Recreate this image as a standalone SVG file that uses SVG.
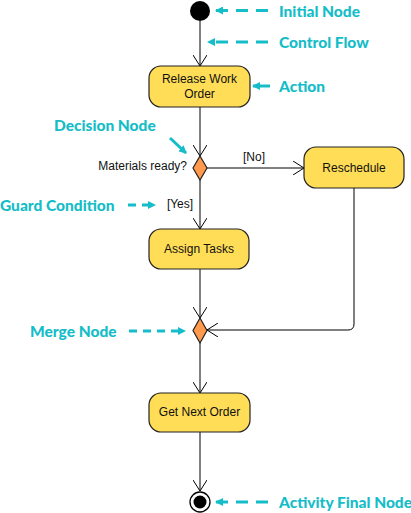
<svg xmlns="http://www.w3.org/2000/svg" width="411" height="513" viewBox="0 0 411 513">
<defs>
<marker id="open" viewBox="0 0 12 14" refX="11" refY="7" markerWidth="12" markerHeight="14" markerUnits="userSpaceOnUse" orient="auto">
<path d="M0,0 L11,7 L0,14" fill="none" stroke="#000" stroke-width="1"/>
</marker>
<marker id="tealhead" viewBox="0 0 8 8" refX="7" refY="4" markerWidth="8" markerHeight="8" markerUnits="userSpaceOnUse" orient="auto">
<path d="M0,0 L8,4 L0,8 Z" fill="#14BDC8"/>
</marker>
</defs>
<style>
.act{fill:#FFDD57;stroke:#222;stroke-width:1.2}
.dia{fill:#FF9A4D;stroke:#222;stroke-width:1.2}
.flow{fill:none;stroke:#000;stroke-width:1;marker-end:url(#open)}
.t{font-family:"Liberation Sans",Arial,sans-serif;font-size:12px;fill:#111;text-anchor:middle;dominant-baseline:central}
.s{font-family:"Liberation Sans",Arial,sans-serif;font-size:12px;fill:#111;dominant-baseline:central}
.lab{font-family:Lato,"Liberation Sans",sans-serif;font-weight:900;font-size:15.5px;fill:#14BDC8;dominant-baseline:central}
.la{fill:none;stroke:#14BDC8;stroke-width:3;marker-end:url(#tealhead)}
.dash{stroke-dasharray:12 8}
</style>

<g id="connectors">
<line class="flow" x1="200" y1="21" x2="200" y2="66"/>
<line class="flow" x1="200" y1="107" x2="200" y2="156"/>
<line class="flow" x1="207" y1="168" x2="304" y2="168"/>
<line class="flow" x1="200" y1="180" x2="200" y2="229"/>
<line class="flow" x1="200" y1="269" x2="200" y2="318"/>
<path class="flow" d="M354,188 L354,324 Q354,330 348,330 L207,330"/>
<line class="flow" x1="200" y1="343" x2="200" y2="393"/>
<line class="flow" x1="200" y1="432" x2="200" y2="491"/>
</g>

<g id="initial-node"><circle cx="200" cy="11" r="10" fill="#000"/></g>

<g id="release-work-order">
<rect class="act" x="149" y="66" width="101" height="41" rx="12"/>
<text class="t" x="199.5" y="79">Release Work</text>
<text class="t" x="199.5" y="94">Order</text>
</g>

<g id="decision-node">
<path class="dia" d="M200,156 L207,168 L200,180 L193,168 Z"/>
<text class="s" x="187" y="166" text-anchor="end">Materials ready?</text>
</g>

<g id="guard-no"><text class="s" x="254" y="157" text-anchor="middle" font-size="11px">[No]</text></g>
<g id="guard-yes"><text class="s" x="180" y="204" text-anchor="middle" font-size="11px">[Yes]</text></g>

<g id="reschedule">
<rect class="act" x="304" y="147" width="100" height="41" rx="12"/>
<text class="t" x="354" y="168">Reschedule</text>
</g>

<g id="assign-tasks">
<rect class="act" x="149" y="229" width="100" height="40" rx="12"/>
<text class="t" x="199" y="249">Assign Tasks</text>
</g>

<g id="merge-node">
<path class="dia" d="M200,318 L207,330.5 L200,343 L193,330.5 Z"/>
</g>

<g id="get-next-order">
<rect class="act" x="149" y="393" width="101" height="39" rx="12"/>
<text class="t" x="199.5" y="412">Get Next Order</text>
</g>

<g id="final-node">
<circle cx="200" cy="502" r="10" fill="#fff" stroke="#000" stroke-width="1.3"/>
<circle cx="200" cy="502" r="6.5" fill="#000"/>
</g>

<g id="legend">
<line class="la dash" x1="268" y1="10.5" x2="216" y2="10.5"/>
<text class="lab" x="279" y="10.5">Initial Node</text>
<line class="la dash" x1="268" y1="42" x2="208" y2="42"/>
<text class="lab" x="279" y="42">Control Flow</text>
<line class="la" x1="270" y1="86" x2="253" y2="86"/>
<text class="lab" x="279" y="86">Action</text>
<text class="lab" x="54" y="125">Decision Node</text>
<line class="la" x1="170" y1="138" x2="186" y2="153"/>
<text class="lab" x="0" y="205">Guard Condition</text>
<line class="la dash" x1="128" y1="205" x2="155" y2="205" style="stroke-dasharray:8 6"/>
<text class="lab" x="30" y="331">Merge Node</text>
<line class="la dash" x1="129" y1="331" x2="185" y2="331" style="stroke-dasharray:8 6"/>
<line class="la dash" x1="268" y1="502" x2="216" y2="502"/>
<text class="lab" x="279" y="502">Activity Final Node</text>
</g>
</svg>
